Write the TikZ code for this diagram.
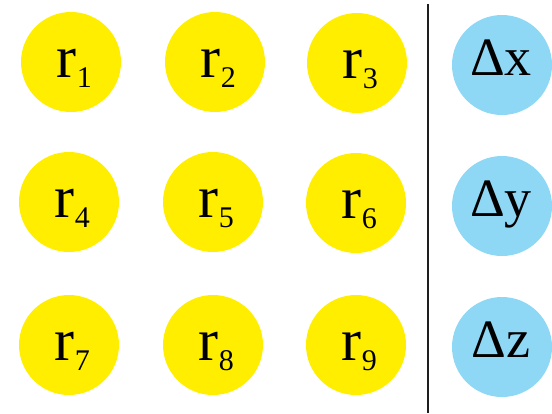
\documentclass[tikz,border=0pt]{standalone}
\usepackage{fontspec}
\setmainfont{Liberation Serif}
\newfontfamily\serf{Liberation Serif}
\definecolor{ballyellow}{RGB}{255,238,0}
\definecolor{ballblue}{RGB}{142,216,246}
\definecolor{lineclr}{RGB}{30,30,30}
\tikzset{
  yball/.style={circle, fill=ballyellow, draw=none, minimum size=100pt, inner sep=0pt},
  bball/.style={circle, fill=ballblue, draw=none, minimum size=100pt, inner sep=0pt},
  rlab/.style={anchor=base, inner sep=0pt, font=\serf\fontsize{60}{60}\selectfont, text=black},
  dlab/.style={anchor=base, inner sep=0pt, font=\serf\fontsize{54}{54}\selectfont, text=black},
  sepline/.style={draw=lineclr, line width=2.2pt}
}
\newcommand{\rsub}[1]{r\kern1pt\raisebox{-10pt}{\serf\fontsize{30}{30}\selectfont #1}}
\begin{document}
\begin{tikzpicture}[x=1pt,y=-1pt]
\useasboundingbox (0,0) rectangle (552,413);
\foreach \n/\x/\y in {1/71/62, 2/215/62, 3/357/63, 4/69/202, 5/213/202, 6/356/203, 7/69/345, 8/213/345, 9/356/345} {
  \node[yball] (r\n) at (\x,\y) {};
  \node[rlab] (r\n t) at (\x+3,\y+15) {\rsub{\n}};
}
\node[bball] (dx) at (502,65) {};
\node[dlab] (dxt) at (501,75) {Δx};
\node[bball] (dy) at (502,206) {};
\node[dlab] (dyt) at (501,216) {Δy};
\node[bball] (dz) at (502,347) {};
\node[dlab] (dzt) at (501,357) {Δz};
\coordinate (ltop) at (428,4);
\coordinate (lbot) at (428,413);
\draw[sepline] (ltop) -- (lbot);
\end{tikzpicture}
\end{document}
